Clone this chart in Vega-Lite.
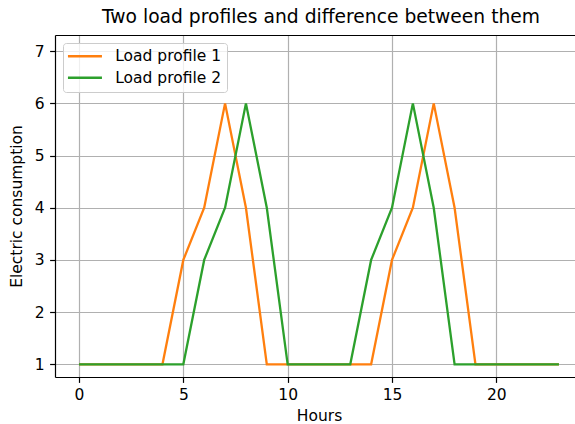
{
  "$schema": "https://vega.github.io/schema/vega-lite/v6.json",
  "width": 520,
  "height": 342,
  "autosize": {"type": "none"},
  "padding": {"left": 55, "top": 35, "right": 0, "bottom": 47},
  "background": "white",
  "title": {
    "text": "Two load profiles and difference between them",
    "fontSize": 18.7,
    "font": "DejaVu Sans",
    "fontWeight": "normal",
    "color": "#000000",
    "anchor": "middle",
    "dx": 6,
    "dy": 17,
    "offset": 10,
    "baseline": "alphabetic"
  },
  "data": {
    "values": [
      {"hour": 0, "value": 1, "profile": "Load profile 1"},
      {"hour": 1, "value": 1, "profile": "Load profile 1"},
      {"hour": 2, "value": 1, "profile": "Load profile 1"},
      {"hour": 3, "value": 1, "profile": "Load profile 1"},
      {"hour": 4, "value": 1, "profile": "Load profile 1"},
      {"hour": 5, "value": 3, "profile": "Load profile 1"},
      {"hour": 6, "value": 4, "profile": "Load profile 1"},
      {"hour": 7, "value": 6, "profile": "Load profile 1"},
      {"hour": 8, "value": 4, "profile": "Load profile 1"},
      {"hour": 9, "value": 1, "profile": "Load profile 1"},
      {"hour": 10, "value": 1, "profile": "Load profile 1"},
      {"hour": 11, "value": 1, "profile": "Load profile 1"},
      {"hour": 12, "value": 1, "profile": "Load profile 1"},
      {"hour": 13, "value": 1, "profile": "Load profile 1"},
      {"hour": 14, "value": 1, "profile": "Load profile 1"},
      {"hour": 15, "value": 3, "profile": "Load profile 1"},
      {"hour": 16, "value": 4, "profile": "Load profile 1"},
      {"hour": 17, "value": 6, "profile": "Load profile 1"},
      {"hour": 18, "value": 4, "profile": "Load profile 1"},
      {"hour": 19, "value": 1, "profile": "Load profile 1"},
      {"hour": 20, "value": 1, "profile": "Load profile 1"},
      {"hour": 21, "value": 1, "profile": "Load profile 1"},
      {"hour": 22, "value": 1, "profile": "Load profile 1"},
      {"hour": 23, "value": 1, "profile": "Load profile 1"},
      {"hour": 0, "value": 1, "profile": "Load profile 2"},
      {"hour": 1, "value": 1, "profile": "Load profile 2"},
      {"hour": 2, "value": 1, "profile": "Load profile 2"},
      {"hour": 3, "value": 1, "profile": "Load profile 2"},
      {"hour": 4, "value": 1, "profile": "Load profile 2"},
      {"hour": 5, "value": 1, "profile": "Load profile 2"},
      {"hour": 6, "value": 3, "profile": "Load profile 2"},
      {"hour": 7, "value": 4, "profile": "Load profile 2"},
      {"hour": 8, "value": 6, "profile": "Load profile 2"},
      {"hour": 9, "value": 4, "profile": "Load profile 2"},
      {"hour": 10, "value": 1, "profile": "Load profile 2"},
      {"hour": 11, "value": 1, "profile": "Load profile 2"},
      {"hour": 12, "value": 1, "profile": "Load profile 2"},
      {"hour": 13, "value": 1, "profile": "Load profile 2"},
      {"hour": 14, "value": 3, "profile": "Load profile 2"},
      {"hour": 15, "value": 4, "profile": "Load profile 2"},
      {"hour": 16, "value": 6, "profile": "Load profile 2"},
      {"hour": 17, "value": 4, "profile": "Load profile 2"},
      {"hour": 18, "value": 1, "profile": "Load profile 2"},
      {"hour": 19, "value": 1, "profile": "Load profile 2"},
      {"hour": 20, "value": 1, "profile": "Load profile 2"},
      {"hour": 21, "value": 1, "profile": "Load profile 2"},
      {"hour": 22, "value": 1, "profile": "Load profile 2"},
      {"hour": 23, "value": 1, "profile": "Load profile 2"}
    ]
  },
  "layer": [
    {
      "mark": {"type": "line", "strokeWidth": 2.3, "clip": true},
      "encoding": {
        "x": {
          "field": "hour",
          "type": "quantitative",
          "scale": {"domain": [-1.15, 23.77], "nice": false, "zero": false},
          "axis": {
            "values": [0, 5, 10, 15, 20],
            "title": "Hours",
            "titleX": 264,
            "titleFontSize": 15.5,
            "titleFontWeight": "normal",
            "titleColor": "#000000",
            "titlePadding": 5,
            "labelFontSize": 15.5,
            "labelColor": "#000000",
            "labelPadding": 5.4,
            "tickSize": 5.4,
            "tickColor": "#000000",
            "tickWidth": 1.2,
            "domainColor": "#000000",
            "domainWidth": 1.2,
            "grid": true,
            "gridColor": "#b0b0b0",
            "gridWidth": 1.2,
            "labelFlush": false
          }
        },
        "y": {
          "field": "value",
          "type": "quantitative",
          "scale": {"domain": [0.757, 7.31], "nice": false, "zero": false},
          "axis": {
            "values": [1, 2, 3, 4, 5, 6, 7],
            "title": "Electric consumption",
            "titleFontSize": 15.5,
            "titleFontWeight": "normal",
            "titleColor": "#000000",
            "titlePadding": 10,
            "labelFontSize": 15.5,
            "labelColor": "#000000",
            "labelPadding": 5.4,
            "tickSize": 5.4,
            "tickColor": "#000000",
            "tickWidth": 1.2,
            "domainColor": "#000000",
            "domainWidth": 1.2,
            "grid": true,
            "gridColor": "#b0b0b0",
            "gridWidth": 1.2,
            "labelFlush": false
          }
        },
        "color": {
          "field": "profile",
          "type": "nominal",
          "scale": {"domain": ["Load profile 1", "Load profile 2"], "range": ["#ff7f0e", "#2ca02c"]},
          "legend": {
            "title": null,
            "orient": "none",
            "legendX": 8,
            "legendY": 8,
            "symbolType": "M-3.4,0H3.4",
            "symbolSize": 100,
            "symbolStrokeWidth": 2.3,
            "symbolOffset": 8.7,
            "labelFontSize": 15.5,
            "labelColor": "#000000",
            "labelOffset": 22.5,
            "rowPadding": 4.5,
            "padding": 5.5,
            "fillColor": "rgba(255,255,255,0.8)",
            "strokeColor": "#cccccc",
            "cornerRadius": 3
          }
        }
      }
    },
    {
      "mark": {"type": "line", "opacity": 0},
      "encoding": {
        "x": {
          "field": "hour",
          "type": "quantitative",
          "axis": {
            "orient": "top",
            "labels": false,
            "ticks": false,
            "grid": false,
            "domain": true,
            "domainColor": "#000000",
            "domainWidth": 1.2,
            "title": null
          }
        },
        "y": {"field": "value", "type": "quantitative", "axis": null}
      }
    }
  ],
  "resolve": {"axis": {"x": "independent", "y": "independent"}},
  "config": {
    "view": {"stroke": null},
    "font": "DejaVu Sans"
  }
}
